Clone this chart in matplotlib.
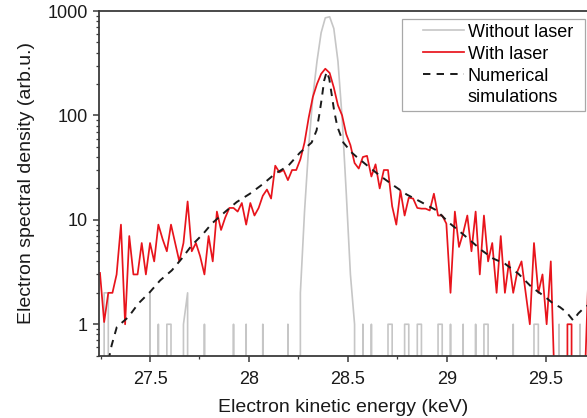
import matplotlib.pyplot as plt
from matplotlib.lines import Line2D
from matplotlib.legend_handler import HandlerLine2D
from matplotlib.ticker import LogLocator, NullFormatter, MultipleLocator

plt.rcParams['font.family'] = ['Liberation Sans', 'DejaVu Sans']

# energy bins (keV)
energy = [
    27.247, 27.268, 27.289, 27.310, 27.331, 27.353, 27.374, 27.395, 27.416, 27.437,
    27.458, 27.479, 27.500, 27.521, 27.542, 27.564, 27.585, 27.606, 27.627, 27.648,
    27.669, 27.690, 27.711, 27.732, 27.753, 27.775, 27.796, 27.817, 27.838, 27.859,
    27.880, 27.901, 27.922, 27.943, 27.964, 27.986, 28.007, 28.028, 28.049, 28.070,
    28.091, 28.112, 28.133, 28.154, 28.175, 28.197, 28.218, 28.239, 28.260, 28.281,
    28.302, 28.323, 28.344, 28.365, 28.386, 28.408, 28.429, 28.450, 28.471, 28.492,
    28.513, 28.534, 28.555, 28.576, 28.597, 28.619, 28.640, 28.661, 28.682, 28.703,
    28.724, 28.745, 28.766, 28.787, 28.808, 28.830, 28.851, 28.872, 28.893, 28.914,
    28.935, 28.956, 28.977, 28.998, 29.019, 29.041, 29.062, 29.083, 29.104, 29.125,
    29.146, 29.167, 29.188, 29.209, 29.230, 29.252, 29.273, 29.294, 29.315, 29.336,
    29.357, 29.378, 29.399, 29.420, 29.441, 29.463, 29.484, 29.505, 29.526, 29.547,
    29.568, 29.589, 29.610, 29.631, 29.652, 29.674, 29.695, 29.716,
]

without_laser = [
    0, 2, 2, 0, 0, 0, 0, 0, 0, 0,
    0, 0, 2, 0, 1, 0, 1, 1, 0, 0,
    1, 2, 0, 0, 0, 1, 0, 0, 0, 0,
    0, 0, 1, 0, 0, 1, 0, 0, 0, 1,
    0, 0, 0, 0, 0, 1, 0, 0, 2, 12,
    50, 150, 330, 620, 860, 880, 680, 330, 95, 18,
    3, 1, 0, 1, 0, 1, 0, 0, 0, 1,
    1, 0, 0, 1, 1, 0, 1, 1, 0, 0,
    0, 1, 1, 0, 1, 0, 0, 1, 0, 0,
    1, 0, 1, 1, 0, 0, 0, 0, 0, 1,
    0, 0, 0, 0, 1, 1, 0, 0, 0, 0,
    1, 0, 0, 0, 0, 1, 0, 0,
]

with_laser = [
    3.1, 1.05, 2, 2, 3, 9, 1, 7, 3, 3,
    6, 3, 6, 4, 9, 6.5, 5, 9, 6, 4,
    6, 15, 5, 6, 4.5, 3, 7, 4, 12, 8,
    10.5, 13, 13, 12, 14.5, 9, 14.5, 11, 13, 17,
    19.5, 16, 33, 28.5, 30, 24, 30, 30, 38, 55,
    95, 150, 200, 250, 280, 255, 185, 125, 100, 66,
    52, 35, 31, 40, 41, 26, 34, 20, 30, 30,
    13.5, 9, 19, 11, 16.3, 16, 13, 12.8, 12.8, 12.3,
    17.8, 11, 11, 9.2, 2, 12, 5.5, 7.5, 11, 5,
    12, 3, 11, 4, 6, 2, 7, 2, 4, 2,
    3.2, 4, 2, 1, 6, 2, 3, 1, 4, 0.2,
    0, 0, 1, 1, 0, 0, 0.2, 3,
]

sim_energy = [
    27.290, 27.306, 27.332, 27.390, 27.441, 27.500, 27.551, 27.610, 27.660, 27.711,
    27.770, 27.812, 27.879, 27.938, 28.005, 28.073, 28.132, 28.199, 28.258, 28.317,
    28.342, 28.355, 28.368, 28.380, 28.393, 28.406, 28.418, 28.431, 28.447, 28.477,
    28.520, 28.545, 28.612, 28.662, 28.730, 28.797, 28.865, 28.949, 29.008, 29.067,
    29.117, 29.177, 29.236, 29.294, 29.362, 29.429, 29.497, 29.538, 29.572, 29.606,
    29.639, 29.665, 29.690, 29.720,
]
sim_density = [
    0.45, 0.63, 0.94, 1.17, 1.58, 2.04, 2.63, 3.28, 4.25, 5.7,
    7.4, 9.2, 11.9, 14.8, 17.8, 22.2, 27.6, 33, 44, 55,
    72, 100, 145, 215, 262, 225, 160, 110, 78, 55,
    44, 40, 31.5, 26.5, 21.4, 17.5, 15, 12.3, 9.5, 7.7,
    6.4, 5.1, 4.25, 3.8, 3.05, 2.27, 1.83, 1.58, 1.46, 1.3,
    1.09, 1.27, 1.41, 1.55,
]

W, H = 587, 418
fig = plt.figure(figsize=(W / 100, H / 100), dpi=100)
ax = fig.add_axes([99 / W, 1 - 355.7 / H, (W - 99) / W, (355.7 - 11) / H])

ax.set_yscale('log')
ax.plot(energy, without_laser, color='#c6c6c6', lw=1.2, label='Without laser')
ax.plot(energy, with_laser, color='#e8141c', lw=1.25, label='With laser')
ax.plot(sim_energy, sim_density, color='#1a1a1a', lw=1.4, dashes=(3.8, 3.2),
        label='Numerical')
ax.plot([], [], color='none', label='simulations')

ax.set_xlim(27.242, 29.709)
ax.set_ylim(0.5, 1000)

ax.xaxis.set_minor_locator(MultipleLocator(0.25))
ax.set_xticks([27.5, 28, 28.5, 29, 29.5])
ax.set_xticklabels(['27.5', '28', '28.5', '29', '29.5'])
ax.set_yticks([1, 10, 100, 1000])
ax.set_yticklabels(['1', '10', '100', '1000'])
ax.yaxis.set_minor_locator(LogLocator(base=10, subs=range(2, 10)))
ax.yaxis.set_minor_formatter(NullFormatter())

spine_col = '#3a3a3a'
for side in ['left', 'top', 'bottom']:
    ax.spines[side].set_color(spine_col)
    ax.spines[side].set_linewidth(1.3)
ax.spines['right'].set_visible(False)

ax.tick_params(which='major', direction='out', length=4, width=1.1,
               color=spine_col, labelsize=13, labelcolor='#1a1a1a', pad=4)
ax.tick_params(which='minor', direction='out', length=2.2, width=0.9,
               color=spine_col)
ax.tick_params(axis='x', which='major', pad=7)
ax.tick_params(top=False, right=False, which='both')

ax.set_xlabel('Electron kinetic energy (keV)', fontsize=14, color='#1a1a1a',
              labelpad=8)
ax.set_ylabel('Electron spectral density (arb.u.)', fontsize=14,
              color='#1a1a1a', labelpad=9)

# legend box spans x 402..585 px, top at 19 px
leg = ax.legend(loc='upper left', bbox_to_anchor=(0.621, 0.72, 0.374, 0.256),
                mode='expand', borderaxespad=0, fontsize=13, fancybox=False,
                framealpha=1, edgecolor='#a8a8a8', handlelength=3.2,
                handletextpad=0.2, labelspacing=0.27, borderpad=0.25,
                handler_map={Line2D: HandlerLine2D(xpad=0.92)})
leg.get_frame().set_linewidth(0.9)

fig.savefig('out.png', dpi=100)
